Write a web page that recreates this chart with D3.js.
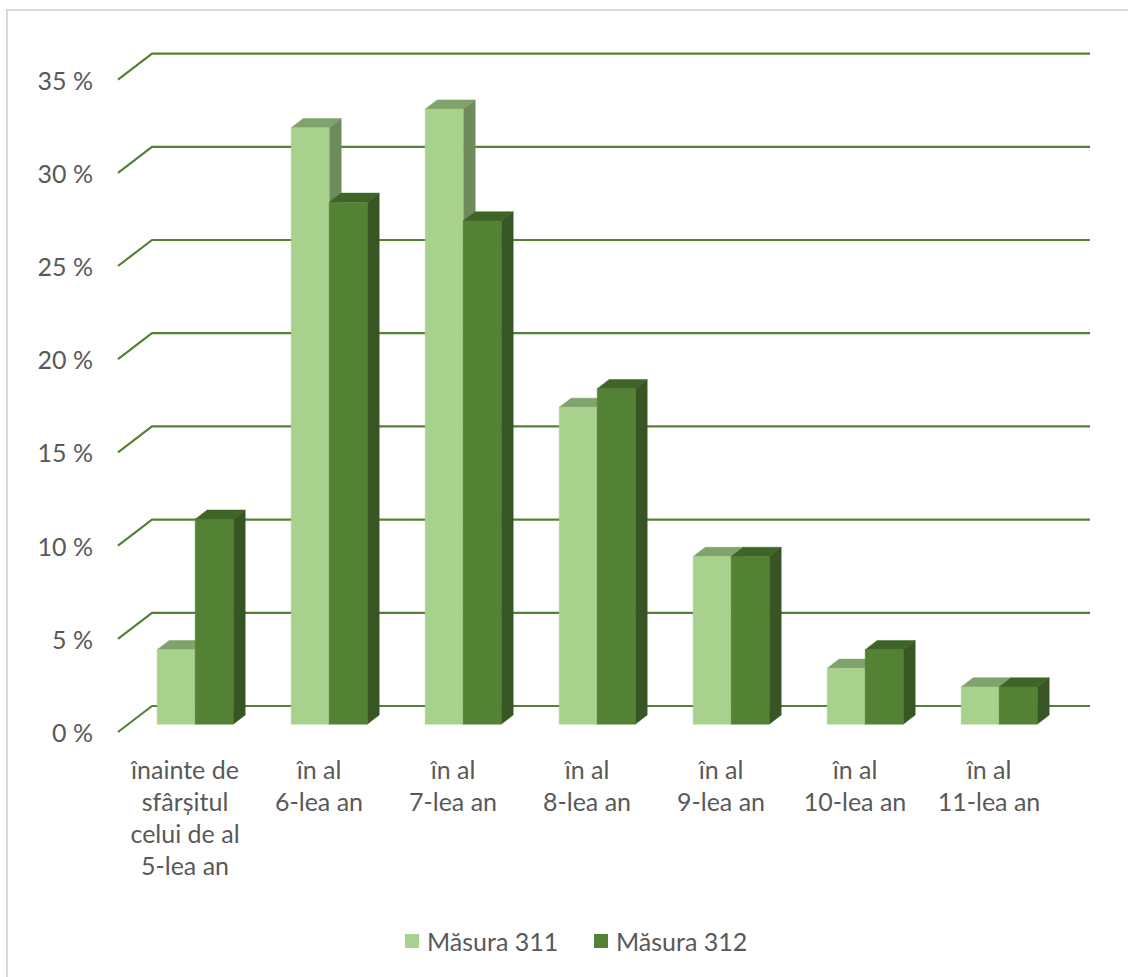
<!DOCTYPE html>
<html><head><meta charset="utf-8">
<script src="https://cdn.jsdelivr.net/npm/d3@7/dist/d3.min.js"></script>
<style>body{margin:0;background:#fff}svg{display:block}text{font-family:Lato,"Noto Sans",sans-serif;fill:#595959}</style>
</head><body>
<script>
const categories = [
  ["înainte de","sfârșitul","celui de al","5-lea an"],
  ["în al","6-lea an"],
  ["în al","7-lea an"],
  ["în al","8-lea an"],
  ["în al","9-lea an"],
  ["în al","10-lea an"],
  ["în al","11-lea an"]
];
const seriesNames = ["Măsura 311","Măsura 312"];
const masura311 = [4, 32, 33, 17, 9, 3, 2];
const masura312 = [11, 28, 27, 18, 9, 4, 2];
const yTicks = [0,5,10,15,20,25,30,35];

const W = 1128, H = 977, FS = 25;
const svg = d3.select("body").append("svg").attr("width", W).attr("height", H);
svg.append("rect").attr("x",7).attr("y",10).attr("width",W).attr("height",H)
  .attr("fill","#fff").attr("stroke","#d9d9d9").attr("stroke-width",2);

const catKeys = categories.map((c,i)=>"c"+i);
const x0 = d3.scaleBand().domain(catKeys).range([118, 1056]);
const y = d3.scaleLinear().domain([0,35]).range([732, 79.6]);
const DX = 34, DY = -26;
const P = (x, v, f) => [x + DX*f, y(v) + DY*f];

// gridlines
const grid = svg.append("g");
yTicks.forEach(t => {
  const a = P(118, t, 0), b = P(118, t, 1), c = P(1056, t, 1);
  grid.append("polyline").attr("points", [a,b,c].map(p=>p.join(",")).join(" "))
    .attr("fill","none").attr("stroke","#548235").attr("stroke-width",2.2);
  svg.append("text").attr("x", 93).attr("y", y(t)).attr("text-anchor","end")
    .attr("dominant-baseline","central").attr("font-size",FS).text(t + " %");
});

const colors = [
  {front:"#a9d18e", top:"#7fa36a", side:"#6e8b5b"},
  {front:"#548235", top:"#3e6428", side:"#375623"}
];
const fFront = 0.3, fBack = 0.3 + 12/34;
const clusterW = 76;
const x1 = d3.scaleBand().domain(seriesNames).range([0, clusterW]);

const bars = svg.append("g");
catKeys.forEach((k, i) => {
  const cx = x0(k) + x0.bandwidth()/2 - clusterW/2;
  [masura311[i], masura312[i]].forEach((v, s) => {
    const xl = cx + x1(seriesNames[s]), xr = xl + x1.bandwidth();
    const col = colors[s];
    const fl0 = P(xl,0,fFront), fr0 = P(xr,0,fFront), flv = P(xl,v,fFront), frv = P(xr,v,fFront);
    const blv = P(xl,v,fBack), brv = P(xr,v,fBack), br0 = P(xr,0,fBack);
    const poly = (pts, fill) => bars.append("polygon").attr("points", pts.map(p=>p.join(",")).join(" "))
      .attr("fill", fill).attr("stroke", fill).attr("stroke-width", 0.5);
    poly([fr0, frv, brv, br0], col.side);
    poly([flv, frv, brv, blv], col.top);
    poly([fl0, flv, frv, fr0], col.front);
  });
  const cxl = x0(k) + x0.bandwidth()/2;
  const t = svg.append("text").attr("text-anchor","middle").attr("font-size",FS);
  categories[i].forEach((line, j) => {
    t.append("tspan").attr("x", cxl).attr("y", 769 + 32*j).attr("dominant-baseline","central").text(line);
  });
});

// legend
const lg = svg.append("g");
const legX = [405, 594];
seriesNames.forEach((n, s) => {
  lg.append("rect").attr("x", legX[s]).attr("y", 934).attr("width", 14).attr("height", 14).attr("fill", colors[s].front);
  lg.append("text").attr("x", legX[s] + 22).attr("y", 941).attr("dominant-baseline","central").attr("font-size",FS).text(n);
});
</script>
</body></html>
